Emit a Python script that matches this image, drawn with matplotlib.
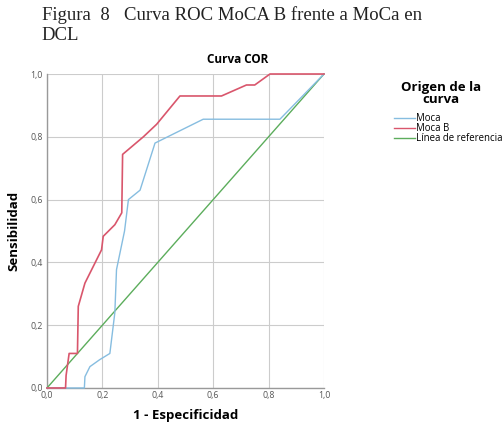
import matplotlib
matplotlib.use("Agg")
import matplotlib.pyplot as plt
from matplotlib.lines import Line2D

# -------------------------
# Datos (1 - especificidad, sensibilidad)
# -------------------------
moca_x = [0.0, 0.135, 0.137, 0.155, 0.19, 0.227, 0.245, 0.251, 0.28, 0.294, 0.336, 0.39, 0.564, 0.841, 1.0]
moca_y = [0.0, 0.0, 0.036, 0.068, 0.09, 0.11, 0.24, 0.377, 0.50, 0.60, 0.63, 0.78, 0.856, 0.856, 1.0]

mocab_x = [0.0, 0.067, 0.069, 0.08, 0.11, 0.113, 0.137, 0.197, 0.203, 0.245, 0.27, 0.273, 0.348, 0.396,
           0.48, 0.63, 0.72, 0.75, 0.805, 1.0]
mocab_y = [0.0, 0.0, 0.04, 0.11, 0.11, 0.26, 0.334, 0.44, 0.483, 0.52, 0.558, 0.744, 0.80, 0.84,
           0.93, 0.93, 0.965, 0.965, 1.0, 1.0]

ref_x = [0.0, 1.0]
ref_y = [0.0, 1.0]

ticks = [0.0, 0.2, 0.4, 0.6, 0.8, 1.0]
tick_labels = ["0,0", "0,2", "0,4", "0,6", "0,8", "1,0"]

c_moca = "#86bde0"
c_mocab = "#d9566c"
c_ref = "#5cad5c"

plt.rcParams['font.family'] = ['Open Sans', 'DejaVu Sans']

fig = plt.figure(figsize=(5.03, 4.29), dpi=100)
ax = fig.add_axes([0.0934, 0.0956, 0.5507, 0.7319])

ax.plot(ref_x, ref_y, color=c_ref, lw=1.0, clip_on=False, zorder=3)
ax.plot(moca_x, moca_y, color=c_moca, lw=1.0, clip_on=False, zorder=4)
ax.plot(mocab_x, mocab_y, color=c_mocab, lw=1.2, clip_on=False, zorder=5)

ax.set_xlim(0, 1)
ax.set_ylim(0, 1)
ax.set_xticks(ticks)
ax.set_yticks(ticks)
ax.set_xticklabels(tick_labels)
ax.set_yticklabels(tick_labels)
ax.tick_params(labelsize=6.3, colors="#555555", length=0)
ax.tick_params(axis="x", pad=2.5)
ax.tick_params(axis="y", pad=3)
ax.grid(True, color="#cccccc", lw=0.8)
ax.set_axisbelow(True)
for s in ["top", "right"]:
    ax.spines[s].set_visible(False)
for s in ["left", "bottom"]:
    ax.spines[s].set_color("#999999")
    ax.spines[s].set_linewidth(1.0)

ax.set_xlabel("1 - Especificidad", fontsize=9.5, fontweight="bold", labelpad=6)
ax.set_ylabel("Sensibilidad", fontsize=9.5, fontweight="bold", labelpad=7)
ax.set_title("Curva COR", fontsize=8.5, fontweight="bold", pad=8, x=0.69)

# Leyenda (título aparte para dejar el hueco como en el original)
fig.text(0.877, 0.812, "Origen de la\ncurva", fontsize=9.5, fontweight="bold",
         ha="center", va="top", multialignment="center", linespacing=0.95)
handles = [Line2D([], [], color=c_moca, lw=1.0),
           Line2D([], [], color=c_mocab, lw=1.0),
           Line2D([], [], color=c_ref, lw=1.0)]
leg = fig.legend(handles, ["Moca", "Moca B", "Línea de referencia"],
                 loc="upper left", bbox_to_anchor=(0.784, 0.736), frameon=False,
                 fontsize=6.9, handlelength=2.2, handletextpad=0.1,
                 labelspacing=-0.1, borderpad=0, borderaxespad=0)

# Pie de figura
fig.text(0.083, 0.985, "Figura  8   Curva ROC MoCA B frente a MoCa en\nDCL",
         family="Liberation Serif", fontsize=13.5, va="top", ha="left",
         linespacing=1.2, color="#222222")

fig.savefig("out.png", dpi=100)
